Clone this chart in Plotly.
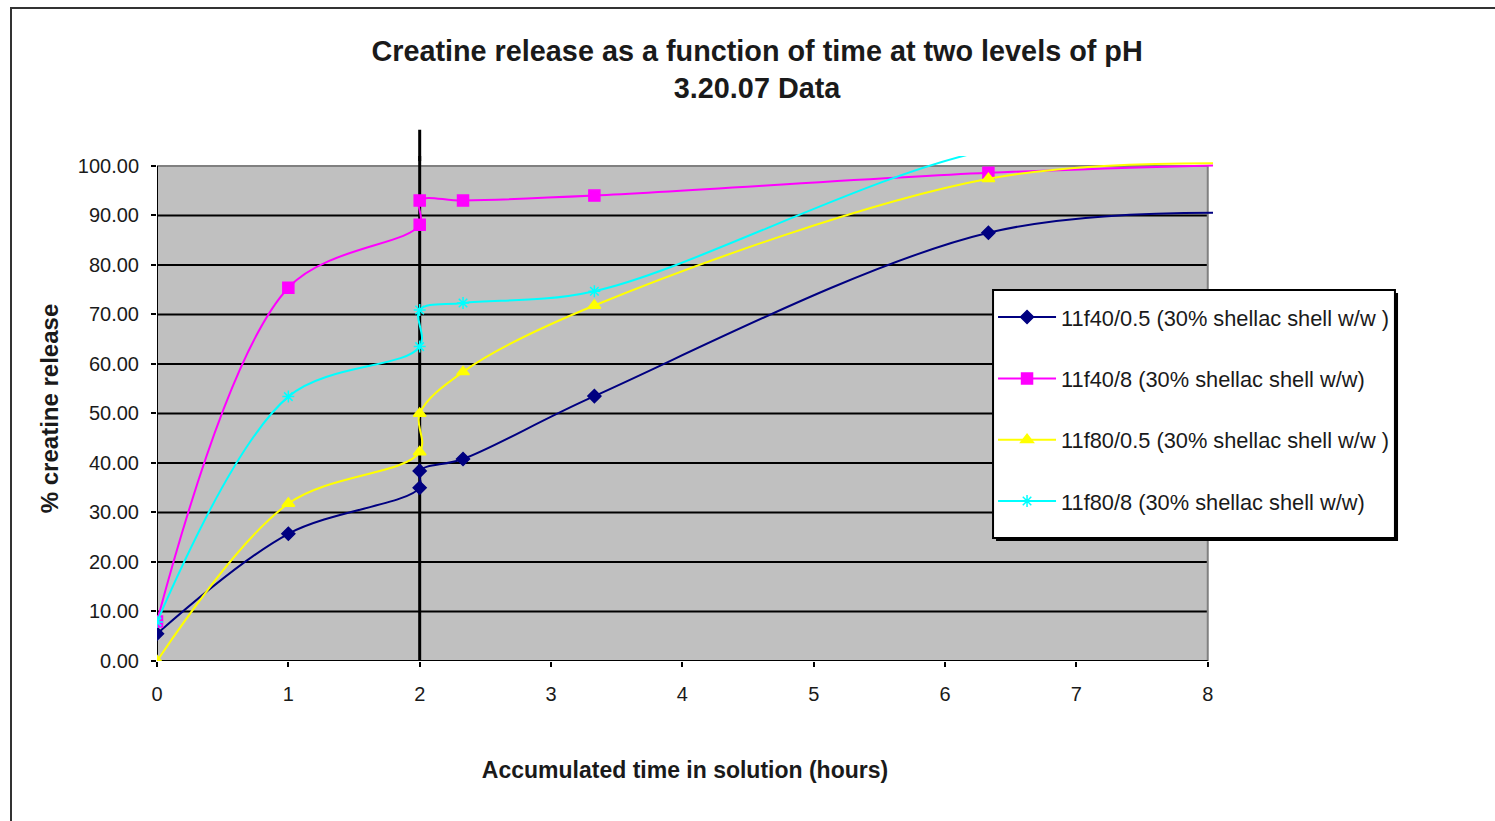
import plotly.graph_objects as go

# Sampling times (hours); two readings at 2 h bracket the pH change
HOURS = [0, 1, 2, 2, 2.33, 3.33, 6.33, 8.33]

F40_PH05 = [5.5, 25.7, 35.0, 38.4, 40.8, 53.5, 86.5, 90.5]
F40_PH8 = [8.0, 75.4, 88.1, 93.0, 93.0, 94.0, 98.6, 100.3]
F80_PH05 = [0.0, 31.8, 42.2, 50.0, 58.4, 71.8, 97.4, 100.5]
F80_PH8 = [7.9, 53.4, 63.5, 70.9, 72.3, 74.7, 103.2, 106.0]

SERIES_NAMES = [
    "11f40/0.5 (30% shellac shell w/w )",
    "11f40/8 (30% shellac shell w/w)",
    "11f80/0.5 (30% shellac shell w/w )",
    "11f80/8 (30% shellac shell w/w)",
]
SERIES_VALUES = [F40_PH05, F40_PH8, F80_PH05, F80_PH8]
SERIES_COLORS = ["#000080", "#FF00FF", "#FFFF00", "#00FFFF"]
SERIES_SYMBOLS = ["diamond", "square", "triangle-up", "asterisk-open"]
SERIES_SIZES = [10, 11, 11, 10]

X_TICKS = [0, 1, 2, 3, 4, 5, 6, 7, 8]
Y_TICKS = [0, 10, 20, 30, 40, 50, 60, 70, 80, 90, 100]
PH_SWITCH_HOUR = 2

FONT = "Liberation Sans, Arial, sans-serif"
TEXT = "#1a1a1a"

fig = go.Figure()

for name, vals, col, sym, size in zip(SERIES_NAMES, SERIES_VALUES, SERIES_COLORS,
                                      SERIES_SYMBOLS, SERIES_SIZES):
    fig.add_trace(go.Scatter(
        x=HOURS, y=vals, name=name, legendgroup=name,
        mode="lines+markers",
        line=dict(color=col, width=2, shape="spline", smoothing=1.0),
        marker=dict(symbol=sym, size=size, color=col,
                    line=dict(color=col, width=1.5)),
    ))

x_lo, x_hi = X_TICKS[0], X_TICKS[-1]
y_lo, y_hi = Y_TICKS[0], Y_TICKS[-1]

shapes = []
# grey plot area
shapes.append(dict(type="rect", xref="x", yref="y", x0=x_lo, x1=x_hi, y0=y_lo, y1=y_hi,
                   fillcolor="#C0C0C0", line=dict(width=0), layer="below"))
# horizontal gridlines
for yv in Y_TICKS[1:-1]:
    shapes.append(dict(type="line", xref="x", yref="y", x0=x_lo, x1=x_hi, y0=yv, y1=yv,
                       line=dict(color="#000000", width=2), layer="between"))
# top and right borders of the plot area
shapes.append(dict(type="line", xref="x", yref="y", x0=x_lo, x1=x_hi, y0=y_hi, y1=y_hi,
                   line=dict(color="#808080", width=2), layer="between"))
shapes.append(dict(type="line", xref="x", yref="y", x0=x_hi, x1=x_hi, y0=y_lo, y1=y_hi,
                   line=dict(color="#808080", width=2), layer="between"))
# axis lines
shapes.append(dict(type="line", xref="x", yref="y", x0=x_lo, x1=x_hi, y0=y_lo, y1=y_lo,
                   line=dict(color="#000000", width=2), layer="between"))
shapes.append(dict(type="line", xref="x", yref="y", x0=x_lo, x1=x_lo, y0=y_lo, y1=y_hi,
                   line=dict(color="#000000", width=2), layer="between"))
# marker for the pH switch: inside the plot area, then its stub above it
shapes.append(dict(type="line", xref="x", yref="y", x0=PH_SWITCH_HOUR, x1=PH_SWITCH_HOUR,
                   y0=y_lo, y1=110, line=dict(color="#000000", width=3), layer="between"))
shapes.append(dict(type="line", xref="x", yref="paper", x0=PH_SWITCH_HOUR, x1=PH_SWITCH_HOUR,
                   y0=0.99, y1=1.052, line=dict(color="#000000", width=3), layer="above"))
# chart frame
shapes.append(dict(type="rect", xref="paper", yref="paper",
                   xsizemode="pixel", ysizemode="pixel", xanchor=0, yanchor=1,
                   x0=-146, x1=1500, y0=148, y1=-720,
                   line=dict(color="#333333", width=2), fillcolor="rgba(0,0,0,0)",
                   layer="below"))
# legend box with its drop shadow
LEG_X0, LEG_X1, LEG_Y0, LEG_Y1 = 0.7917, 1.1723, 0.2436, 0.7347
shapes.append(dict(type="rect", xref="paper", yref="paper",
                   xsizemode="pixel", ysizemode="pixel", xanchor=LEG_X0, yanchor=LEG_Y1,
                   x0=3, x1=405, y0=-3, y1=-251,
                   fillcolor="#000000", line=dict(width=0), layer="above"))
shapes.append(dict(type="rect", xref="paper", yref="paper",
                   x0=LEG_X0, x1=LEG_X1, y0=LEG_Y0, y1=LEG_Y1,
                   fillcolor="white", line=dict(color="#000000", width=2), layer="above"))

fig.update_layout(
    width=1495, height=821,
    margin=dict(l=157, r=282, t=156, b=160),
    paper_bgcolor="white", plot_bgcolor="white",
    font=dict(family=FONT, color=TEXT),
    title=dict(
        text="<b>Creatine release as a function of time at two levels of pH<br>3.20.07 Data</b>",
        font=dict(size=28.8, color=TEXT, family=FONT),
        x=0.5064, xref="container", xanchor="center",
        y=0.9263, yref="container", yanchor="middle",
    ),
    xaxis=dict(
        range=[0, 8.04], tickvals=X_TICKS, ticktext=[str(v) for v in X_TICKS],
        showgrid=False, zeroline=False, showline=False,
        ticks="outside", ticklen=5, tickwidth=2, tickcolor="#000000",
        ticklabelstandoff=10,
        tickfont=dict(size=20, color=TEXT),
        title=dict(text="<b>Accumulated time in solution (hours)</b>",
                   font=dict(size=23, color=TEXT), standoff=57),
    ),
    yaxis=dict(
        range=[0, 102], tickvals=Y_TICKS, tickformat=".2f",
        showgrid=False, zeroline=False, showline=False,
        ticks="outside", ticklen=5, tickwidth=2, tickcolor="#000000",
        ticklabelstandoff=8,
        tickfont=dict(size=20, color=TEXT),
        title=dict(text="<b>% creatine release</b>",
                   font=dict(size=24, color=TEXT), standoff=12),
    ),
    legend=dict(
        x=LEG_X0, xanchor="left", y=0.722, yanchor="top",
        bgcolor="rgba(0,0,0,0)", borderwidth=0,
        font=dict(size=21.8, color=TEXT),
        tracegroupgap=30, itemwidth=58,
    ),
    shapes=shapes,
)

fig.write_html("out.html")
